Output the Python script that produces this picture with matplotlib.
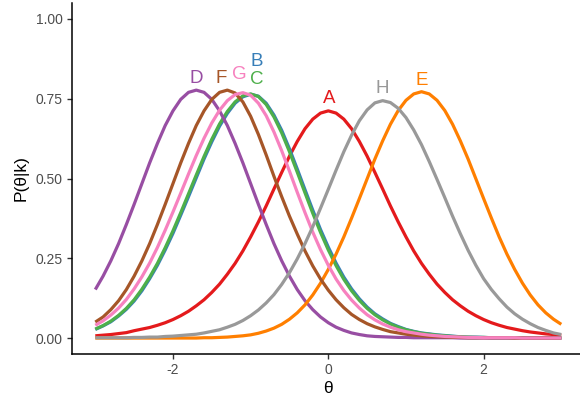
import matplotlib
matplotlib.use("Agg")
import matplotlib.pyplot as plt

plt.rcParams["font.family"] = ["Liberation Sans", "DejaVu Sans"]

theta = [-3.0, -2.9, -2.8, -2.7, -2.6, -2.5, -2.4, -2.3, -2.2, -2.1,
         -2.0, -1.9, -1.8, -1.7, -1.6, -1.5, -1.4, -1.3, -1.2, -1.1,
         -1.0, -0.9, -0.8, -0.7, -0.6, -0.5, -0.4, -0.3, -0.2, -0.1,
         0.0, 0.1, 0.2, 0.3, 0.4, 0.5, 0.6, 0.7, 0.8, 0.9,
         1.0, 1.1, 1.2, 1.3, 1.4, 1.5, 1.6, 1.7, 1.8, 1.9,
         2.0, 2.1, 2.2, 2.3, 2.4, 2.5, 2.6, 2.7, 2.8, 2.9,
         3.0]

p_a = [0.007, 0.009, 0.011, 0.014, 0.017, 0.023, 0.028, 0.033, 0.040, 0.048,
       0.058, 0.070, 0.084, 0.101, 0.120, 0.143, 0.169, 0.200, 0.234, 0.273,
       0.317, 0.364, 0.414, 0.467, 0.519, 0.570, 0.616, 0.656, 0.686, 0.705,
       0.712, 0.705, 0.686, 0.656, 0.616, 0.570, 0.519, 0.467, 0.414, 0.364,
       0.317, 0.273, 0.234, 0.200, 0.169, 0.143, 0.120, 0.101, 0.084, 0.070,
       0.058, 0.048, 0.040, 0.033, 0.028, 0.023, 0.019, 0.016, 0.013, 0.011,
       0.009]
p_b = [0.027, 0.038, 0.051, 0.069, 0.090, 0.116, 0.148, 0.186, 0.228, 0.276,
       0.328, 0.385, 0.443, 0.502, 0.561, 0.615, 0.664, 0.704, 0.736, 0.756,
       0.764, 0.758, 0.736, 0.699, 0.651, 0.593, 0.530, 0.465, 0.401, 0.340,
       0.285, 0.235, 0.191, 0.154, 0.123, 0.097, 0.076, 0.060, 0.046, 0.036,
       0.027, 0.021, 0.016, 0.013, 0.010, 0.008, 0.006, 0.004, 0.003, 0.003,
       0.002, 0.001, 0.001, 0.001, 0.001, 0.001, 0.000, 0.000, 0.000, 0.000,
       0.000]
p_c = [0.028, 0.039, 0.053, 0.071, 0.093, 0.120, 0.153, 0.191, 0.234, 0.283,
       0.336, 0.393, 0.452, 0.511, 0.569, 0.623, 0.671, 0.710, 0.740, 0.759,
       0.765, 0.757, 0.732, 0.693, 0.643, 0.584, 0.520, 0.455, 0.391, 0.331,
       0.276, 0.227, 0.184, 0.148, 0.118, 0.093, 0.073, 0.057, 0.044, 0.034,
       0.026, 0.020, 0.015, 0.012, 0.009, 0.007, 0.005, 0.004, 0.003, 0.002,
       0.002, 0.001, 0.001, 0.001, 0.001, 0.001, 0.000, 0.000, 0.000, 0.000,
       0.000]
p_d = [0.152, 0.194, 0.242, 0.296, 0.356, 0.419, 0.484, 0.549, 0.610, 0.666,
       0.712, 0.748, 0.770, 0.777, 0.770, 0.748, 0.712, 0.666, 0.610, 0.549,
       0.484, 0.419, 0.356, 0.296, 0.242, 0.194, 0.152, 0.117, 0.089, 0.066,
       0.048, 0.034, 0.024, 0.016, 0.011, 0.007, 0.005, 0.004, 0.003, 0.002,
       0.002, 0.001, 0.001, 0.001, 0.001, 0.001, 0.001, 0.000, 0.000, 0.000,
       0.000, 0.000, 0.000, 0.000, 0.000, 0.000, 0.000, 0.000, 0.000, 0.000,
       0.000]
p_e = [0.000, 0.000, 0.000, 0.000, 0.000, 0.000, 0.000, 0.000, 0.000, 0.000,
       0.000, 0.000, 0.000, 0.000, 0.001, 0.001, 0.002, 0.003, 0.005, 0.007,
       0.010, 0.015, 0.022, 0.031, 0.043, 0.059, 0.079, 0.104, 0.135, 0.172,
       0.215, 0.263, 0.317, 0.376, 0.437, 0.499, 0.561, 0.618, 0.670, 0.713,
       0.745, 0.765, 0.772, 0.765, 0.745, 0.713, 0.670, 0.618, 0.561, 0.499,
       0.437, 0.376, 0.317, 0.263, 0.215, 0.172, 0.135, 0.104, 0.079, 0.059,
       0.043]
p_f = [0.050, 0.066, 0.089, 0.117, 0.152, 0.194, 0.242, 0.296, 0.356, 0.419,
       0.484, 0.549, 0.610, 0.666, 0.712, 0.748, 0.770, 0.777, 0.768, 0.740,
       0.695, 0.638, 0.574, 0.507, 0.443, 0.382, 0.326, 0.273, 0.226, 0.185,
       0.150, 0.120, 0.095, 0.074, 0.058, 0.045, 0.035, 0.027, 0.020, 0.016,
       0.012, 0.009, 0.007, 0.005, 0.004, 0.003, 0.002, 0.002, 0.001, 0.001,
       0.001, 0.001, 0.001, 0.001, 0.000, 0.000, 0.000, 0.000, 0.000, 0.000,
       0.000]
p_g = [0.040, 0.054, 0.072, 0.094, 0.121, 0.154, 0.192, 0.235, 0.284, 0.338,
       0.395, 0.454, 0.514, 0.572, 0.626, 0.674, 0.714, 0.744, 0.763, 0.769,
       0.761, 0.736, 0.697, 0.646, 0.587, 0.523, 0.457, 0.393, 0.332, 0.277,
       0.228, 0.185, 0.149, 0.119, 0.094, 0.073, 0.057, 0.044, 0.034, 0.026,
       0.020, 0.016, 0.012, 0.009, 0.007, 0.005, 0.004, 0.003, 0.002, 0.002,
       0.001, 0.001, 0.001, 0.001, 0.001, 0.000, 0.000, 0.000, 0.000, 0.000,
       0.000]
p_h = [0.001, 0.001, 0.001, 0.001, 0.001, 0.002, 0.002, 0.003, 0.003, 0.005,
       0.006, 0.008, 0.010, 0.012, 0.016, 0.021, 0.026, 0.034, 0.043, 0.055,
       0.070, 0.088, 0.110, 0.136, 0.168, 0.205, 0.248, 0.296, 0.349, 0.407,
       0.466, 0.526, 0.584, 0.636, 0.681, 0.715, 0.737, 0.744, 0.738, 0.720,
       0.691, 0.652, 0.606, 0.553, 0.497, 0.440, 0.382, 0.327, 0.275, 0.228,
       0.186, 0.152, 0.123, 0.097, 0.076, 0.059, 0.045, 0.033, 0.024, 0.016,
       0.011]

groups = ["A", "B", "C", "D", "E", "F", "G", "H"]
curves = [p_a, p_b, p_c, p_d, p_e, p_f, p_g, p_h]

# label anchor (theta, P) at text baseline
label_theta = [0.013, -0.924, -0.921, -1.698, 1.207, -1.381, -1.151, 0.698]
label_p = [0.736, 0.851, 0.796, 0.800, 0.793, 0.800, 0.811, 0.769]

colors = ["#E41A1C", "#377EB8", "#4DAF4A", "#984EA3", "#FF7F00", "#A65628", "#F781BF", "#999999"]

fig = plt.figure(figsize=(5.8, 4.0), dpi=100)
ax = fig.add_axes([72 / 580, 46 / 400, 512.6 / 580, 351 / 400])

for name, vals, col in zip(groups, curves, colors):
    ax.plot(theta, vals, color=col, linewidth=2.3, solid_capstyle="butt", solid_joinstyle="round")

for name, lx, ly, col in zip(groups, label_theta, label_p, colors):
    ax.text(lx, ly, name, color=col, fontsize=13.5, ha="center", va="baseline")

ax.set_xlim(-3.3, 3.3)
ax.set_ylim(-0.05, 1.05)
ax.set_xticks([-2, 0, 2])
ax.set_xticklabels(["-2", "0", "2"])
ax.set_yticks([0, 0.25, 0.5, 0.75, 1.0])
ax.set_yticklabels(["0.00", "0.25", "0.50", "0.75", "1.00"])

for side in ["top", "right"]:
    ax.spines[side].set_visible(False)
for side in ["left", "bottom"]:
    ax.spines[side].set_linewidth(1.1)
    ax.spines[side].set_color("black")
ax.tick_params(axis="both", length=3.7, width=1.0, color="#333333", labelcolor="#4D4D4D",
               labelsize=10, pad=3)

ax.set_xlabel("θ", fontsize=12.5, labelpad=3)
ax.set_ylabel("P(θ|k)", fontsize=12.5, labelpad=5)

fig.savefig("out.png", dpi=100)
